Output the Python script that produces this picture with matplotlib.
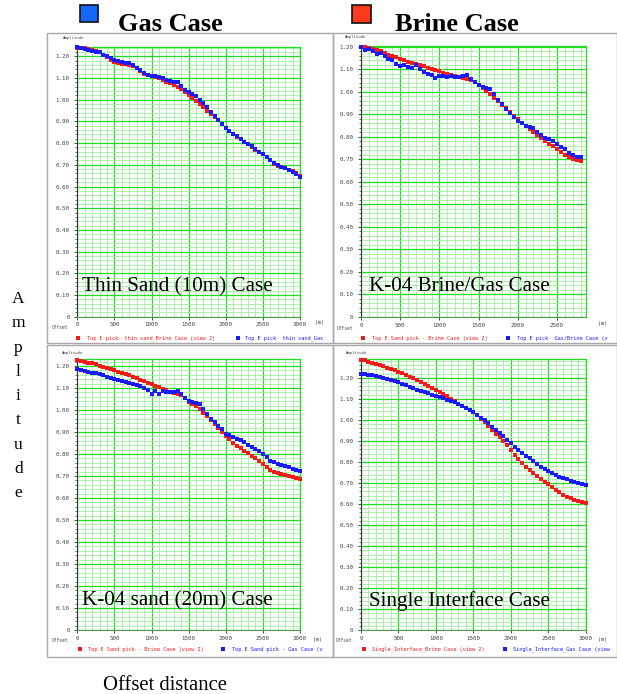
import matplotlib
matplotlib.use('Agg')
import matplotlib.pyplot as plt
from matplotlib.patches import Rectangle
from matplotlib.transforms import Bbox
from matplotlib.ticker import MultipleLocator, FixedLocator

# ---------------- data ----------------
offset_3000 = list(range(0, 3001, 50))
offset_2800 = list(range(0, 2801, 50))

thin_brine = [1.240, 1.237, 1.240, 1.232, 1.228, 1.225, 1.222, 1.205, 1.195, 1.185,
              1.172, 1.168, 1.165, 1.163, 1.160, 1.155, 1.145, 1.132, 1.120, 1.112,
              1.108, 1.105, 1.098, 1.090, 1.083, 1.076, 1.068, 1.060, 1.050, 1.035,
              1.020, 1.007, 0.995, 0.980, 0.965, 0.950, 0.935, 0.920, 0.905, 0.888,
              0.870, 0.855, 0.842, 0.830, 0.818, 0.805, 0.795, 0.783, 0.770, 0.760,
              0.748, 0.735, 0.720, 0.705, 0.695, 0.690, 0.684, 0.678, 0.670, 0.660,
              0.648]
thin_gas = [1.242, 1.237, 1.232, 1.228, 1.225, 1.222, 1.218, 1.208, 1.200, 1.190,
            1.184, 1.178, 1.173, 1.170, 1.168, 1.160, 1.148, 1.135, 1.123, 1.115,
            1.110, 1.108, 1.103, 1.098, 1.093, 1.088, 1.083, 1.080, 1.065, 1.045,
            1.035, 1.025, 1.015, 1.000, 0.985, 0.965, 0.945, 0.925, 0.907, 0.888,
            0.870, 0.856, 0.843, 0.831, 0.820, 0.806, 0.795, 0.785, 0.772, 0.760,
            0.750, 0.738, 0.722, 0.707, 0.697, 0.690, 0.684, 0.676, 0.668, 0.658,
            0.646]

k04_brine = [1.200, 1.198, 1.195, 1.190, 1.185, 1.180, 1.172, 1.166, 1.160, 1.153,
             1.147, 1.140, 1.135, 1.130, 1.125, 1.120, 1.115, 1.108, 1.102, 1.097,
             1.092, 1.086, 1.081, 1.077, 1.072, 1.068, 1.063, 1.058, 1.052, 1.042,
             1.030, 1.018, 1.005, 0.990, 0.975, 0.960, 0.943, 0.927, 0.910, 0.895,
             0.878, 0.862, 0.847, 0.835, 0.822, 0.808, 0.795, 0.782, 0.770, 0.758,
             0.745, 0.732, 0.720, 0.710, 0.703, 0.697, 0.692]
k04_gas = [1.200, 1.185, 1.190, 1.180, 1.168, 1.175, 1.160, 1.145, 1.140, 1.125,
           1.115, 1.118, 1.110, 1.108, 1.118, 1.100, 1.090, 1.080, 1.075, 1.062,
           1.072, 1.070, 1.068, 1.070, 1.065, 1.068, 1.070, 1.075, 1.058, 1.045,
           1.030, 1.020, 1.018, 1.012, 0.990, 0.965, 0.945, 0.925, 0.905, 0.888,
           0.870, 0.860, 0.850, 0.845, 0.838, 0.820, 0.810, 0.795, 0.790, 0.780,
           0.768, 0.755, 0.745, 0.730, 0.720, 0.712, 0.712]

sand20_brine = [1.227, 1.224, 1.220, 1.216, 1.212, 1.207, 1.202, 1.197, 1.192, 1.187,
                1.181, 1.175, 1.169, 1.163, 1.157, 1.151, 1.145, 1.138, 1.132, 1.125,
                1.118, 1.111, 1.104, 1.097, 1.090, 1.083, 1.077, 1.073, 1.070, 1.055,
                1.038, 1.028, 1.020, 1.005, 0.988, 0.972, 0.955, 0.938, 0.920, 0.898,
                0.882, 0.867, 0.852, 0.838, 0.826, 0.815, 0.803, 0.790, 0.780, 0.768,
                0.753, 0.740, 0.728, 0.720, 0.714, 0.708, 0.703, 0.699, 0.695, 0.690,
                0.685]
sand20_gas = [1.185, 1.182, 1.178, 1.175, 1.170, 1.167, 1.162, 1.157, 1.152, 1.147,
              1.143, 1.138, 1.133, 1.127, 1.122, 1.118, 1.113, 1.108, 1.100, 1.090,
              1.073, 1.085, 1.072, 1.086, 1.080, 1.080, 1.082, 1.088, 1.072, 1.055,
              1.040, 1.036, 1.034, 1.027, 1.005, 0.980, 0.960, 0.945, 0.927, 0.912,
              0.890, 0.887, 0.878, 0.870, 0.863, 0.853, 0.842, 0.833, 0.825, 0.813,
              0.800, 0.785, 0.768, 0.762, 0.756, 0.750, 0.745, 0.740, 0.734, 0.728,
              0.723]

single_brine = [1.286, 1.282, 1.276, 1.270, 1.265, 1.259, 1.254, 1.248, 1.242, 1.236,
                1.229, 1.221, 1.213, 1.205, 1.197, 1.188, 1.179, 1.170, 1.161, 1.152,
                1.143, 1.134, 1.123, 1.111, 1.100, 1.088, 1.076, 1.066, 1.055, 1.045,
                1.035, 1.023, 1.006, 0.989, 0.970, 0.952, 0.934, 0.917, 0.900, 0.880,
                0.856, 0.834, 0.812, 0.795, 0.778, 0.761, 0.746, 0.732, 0.720, 0.706,
                0.693, 0.680, 0.667, 0.655, 0.643, 0.634, 0.627, 0.620, 0.614, 0.608,
                0.603]
single_gas = [1.220, 1.218, 1.215, 1.212, 1.209, 1.205, 1.200, 1.195, 1.190, 1.184,
              1.178, 1.171, 1.164, 1.157, 1.150, 1.144, 1.138, 1.132, 1.126, 1.120,
              1.114, 1.108, 1.102, 1.096, 1.090, 1.083, 1.075, 1.067, 1.057, 1.047,
              1.035, 1.024, 1.010, 0.998, 0.983, 0.967, 0.952, 0.937, 0.922, 0.905,
              0.889, 0.873, 0.858, 0.843, 0.830, 0.817, 0.804, 0.791, 0.778, 0.765,
              0.755, 0.746, 0.738, 0.730, 0.723, 0.717, 0.711, 0.705, 0.699, 0.694,
              0.689]

panel_titles = ["Thin Sand (10m) Case", "K-04 Brine/Gas Case",
                "K-04 sand (20m) Case", "Single Interface Case"]
legend_brine = ["Top E pick- thin sand_Brine Case (view 2)",
                "Top E Sand pick - Brine Case (view 2)",
                "Top E Sand pick - Brine Case (view 2)",
                "Single_Interface_Brine Case (view 2)"]
# gas legend entries appear cut off at the panel edge in the source screenshot
legend_gas = ["Top E pick- thin sand_Gas",
              "Top E pick- Gas/Brine Case (v",
              "Top E Sand pick - Gas Case (v",
              "Single_Interface_Gas Case (view"]
y_ticks = [0.0, 0.1, 0.2, 0.3, 0.4, 0.5, 0.6, 0.7, 0.8, 0.9, 1.0, 1.1, 1.2]
y_tick_labels = ["0", "0.10", "0.20", "0.30", "0.40", "0.50", "0.60",
                 "0.70", "0.80", "0.90", "1.00", "1.10", "1.20"]

# ---------------- layout ----------------
W, H = 617, 694
fig = plt.figure(figsize=(W / 100, H / 100), dpi=100)
fig.patch.set_facecolor('white')

RED = '#f41a1a'
BLUE = '#1a1aff'
MAJ = '#22dd22'
MIN = '#9ef09e'
SMALL = 'DejaVu Sans Mono'
SERIF = 'Liberation Serif'

panels = [
    dict(frame=(47, 33, 333, 343), px=(77.3, 300.0, 47.0, 316.7), xmax=3000, ytop=1.243,
         x=offset_3000, brine=thin_brine, gas=thin_gas, xt=[0, 500, 1000, 1500, 2000, 2500, 3000],
         amp=(63, 38), off=(52, 327), m=(315, 322), legy=338.3,
         rm=78.3, rt=86.7, bm=237.7, bt=245.0, title=(81.7, 291.7)),
    dict(frame=(333, 33, 617, 343), px=(361.0, 586.0, 46.0, 317.0), xmax=2870, ytop=1.204,
         x=offset_2800, brine=k04_brine, gas=k04_gas, xt=[0, 500, 1000, 1500, 2000, 2500],
         amp=(345, 37), off=(337, 328), m=(598, 323), legy=338.3,
         rm=363.3, rt=371.7, bm=508.3, bt=516.7, title=(369.3, 290.7)),
    dict(frame=(47, 345, 333, 657), px=(77.3, 300.0, 359.0, 630.0), xmax=3000, ytop=1.232,
         x=offset_3000, brine=sand20_brine, gas=sand20_gas, xt=[0, 500, 1000, 1500, 2000, 2500, 3000],
         amp=(62, 353), off=(52, 641), m=(313, 640), legy=649.3,
         rm=80.0, rt=87.7, bm=223.3, bt=231.7, title=(82.3, 605.7)),
    dict(frame=(333, 345, 617, 657), px=(361.0, 585.7, 359.0, 630.3), xmax=3000, ytop=1.289,
         x=offset_3000, brine=single_brine, gas=single_gas, xt=[0, 500, 1000, 1500, 2000, 2500, 3000],
         amp=(346, 353), off=(336, 641), m=(598, 640), legy=649.3,
         rm=364.3, rt=371.7, bm=505.0, bt=513.3, title=(369.3, 605.7)),
]

for p in panels:
    x0, x1, yt, yb = p['px']
    ax = fig.add_axes([x0 / W, 1 - yb / H, (x1 - x0) / W, (yb - yt) / H])
    ax.set_xlim(0, p['xmax'])
    ax.set_ylim(0, p['ytop'])
    ax.set_facecolor('white')
    ax.xaxis.set_major_locator(FixedLocator(p['xt']))
    ax.xaxis.set_minor_locator(MultipleLocator(100))
    ax.yaxis.set_major_locator(FixedLocator(y_ticks))
    ax.yaxis.set_minor_locator(MultipleLocator(0.02))
    ax.grid(which='minor', color=MIN, lw=0.6, zorder=0)
    ax.grid(which='major', color=MAJ, lw=0.9, zorder=0)
    ax.set_axisbelow(True)
    ax.set_yticklabels(y_tick_labels)
    ax.set_xticklabels([str(v) for v in p['xt']])
    ax.tick_params(axis='both', which='both', direction='out', color='#333333',
                   labelsize=4.2, labelcolor='#444444', labelfontfamily=SMALL)
    ax.tick_params(axis='y', which='major', length=2.5, width=0.6, pad=3)
    ax.tick_params(axis='y', which='minor', length=1.5, width=0.5)
    ax.tick_params(axis='x', which='major', length=2.0, width=0.6, pad=2)
    ax.tick_params(axis='x', which='minor', length=0)
    for s in ['top', 'right']:
        ax.spines[s].set_color(MAJ)
        ax.spines[s].set_linewidth(0.9)
    ax.spines['left'].set_color('#333333')
    ax.spines['left'].set_linewidth(0.8)
    ax.spines['bottom'].set_color('#559955')
    ax.spines['bottom'].set_linewidth(0.8)
    ax.plot(p['x'], p['brine'], 's', ms=2.45, mew=0, color=RED, clip_on=False, zorder=3)
    ax.plot(p['x'], p['gas'], 's', ms=2.45, mew=0, color=BLUE, clip_on=False, zorder=4)

# overlay in pixel coordinates
ov = fig.add_axes([0, 0, 1, 1], facecolor='none')
ov.set_xlim(0, W)
ov.set_ylim(H, 0)
ov.axis('off')

for i, p in enumerate(panels):
    fx0, fy0, fx1, fy1 = p['frame']
    ov.add_patch(Rectangle((fx0, fy0), fx1 - fx0, fy1 - fy0, fill=False,
                           ec='#a8a8a8', lw=1.0))
    clip = Bbox.from_extents(fx0, H - fy1, fx1, H - fy0)
    ov.text(p['amp'][0], p['amp'][1], "Amplitude", fontsize=2.9, family=SMALL,
            color='#444444', va='center', ha='left')
    ov.text(p['off'][0], p['off'][1], "Offset", fontsize=3.3, family=SMALL,
            color='#444444', va='center', ha='left')
    ov.text(p['m'][0], p['m'][1], "(m)", fontsize=3.6, family=SMALL,
            color='#444444', va='center', ha='left')
    ly = p['legy']
    ov.plot([p['rm']], [ly], 's', ms=2.2, mew=0, color=RED)
    ov.plot([p['bm']], [ly], 's', ms=2.2, mew=0, color=BLUE)
    t1 = ov.text(p['rt'], ly, legend_brine[i], fontsize=3.8, family=SMALL,
                 color=RED, va='center', ha='left', clip_on=True)
    t1.set_clip_box(clip)
    t2 = ov.text(p['bt'], ly, legend_gas[i], fontsize=3.8, family=SMALL,
                 color=BLUE, va='center', ha='left', clip_on=True)
    t2.set_clip_box(clip)
    ov.text(p['title'][0], p['title'][1], panel_titles[i], fontsize=15.2,
            family=SERIF, color='black', va='baseline', ha='left', zorder=10)

# header legend
ov.add_patch(Rectangle((80, 5), 18, 17, fc='#1466ff', ec='#111111', lw=1.2))
ov.text(118, 31, "Gas Case", fontsize=19, fontweight='bold', family=SERIF,
        va='baseline', ha='left')
ov.add_patch(Rectangle((352, 5), 19, 18, fc='#ff3b1c', ec='#111111', lw=1.2))
ov.text(395, 31, "Brine Case", fontsize=19, fontweight='bold', family=SERIF,
        va='baseline', ha='left')

# axis titles
ov.text(18.5, 291, "\n".join("Amplitude"), fontsize=12.5, family=SERIF,
        va='top', ha='center', linespacing=1.69, multialignment='center')
ov.text(103, 690, "Offset distance", fontsize=14.9, family=SERIF,
        va='baseline', ha='left')

fig.savefig('out.png', dpi=100, facecolor='white')
